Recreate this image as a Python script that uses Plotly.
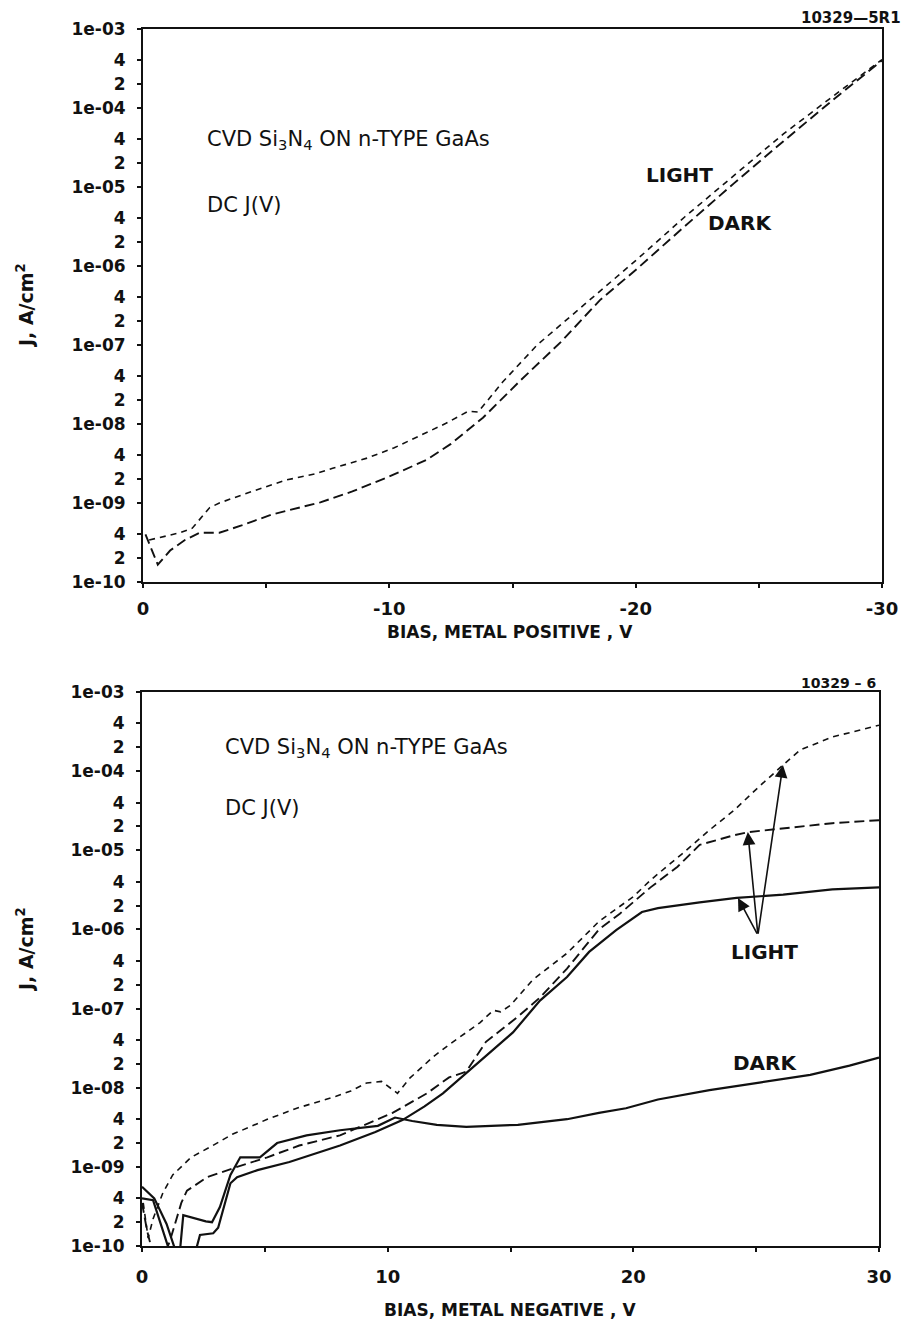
import numpy as np
import plotly.graph_objects as go

# ---------------- data ----------------
# Top panel: bias metal positive (V), J in A/cm^2
top_light_v = [-0.25, -0.8, -1.5, -2.0, -2.7, -3.1, -4.0, -5.8, -7.0, -7.7, -9.1, -10.2,
               -11.25, -12.3, -13.2, -13.6, -14.0, -14.6, -16.0, -18.15, -20.0, -22.0,
               -24.0, -26.0, -28.0, -30.0]
top_light_j = [3.4e-10, 3.7e-10, 4.2e-10, 4.8e-10, 8.7e-10, 1.0e-9, 1.26e-9, 1.95e-9,
               2.34e-9, 2.75e-9, 3.7e-9, 5.0e-9, 7.2e-9, 1.02e-8, 1.45e-8, 1.42e-8,
               2.0e-8, 3.4e-8, 1.0e-7, 3.7e-7, 1.17e-6, 4.2e-6, 1.4e-5, 4.7e-5,
               1.4e-4, 4.1e-4]

top_dark_v = [-0.1, -0.6, -1.1, -1.7, -2.3, -3.1, -4.0, -5.2, -7.2, -8.5, -9.9, -11.5,
              -12.5, -13.4, -13.8, -15.3, -17.0, -18.55, -20.0, -22.0, -24.0, -26.0,
              -28.0, -30.0]
top_dark_j = [4.0e-10, 1.66e-10, 2.5e-10, 3.4e-10, 4.2e-10, 4.2e-10, 5.2e-10, 7.1e-10,
              1.02e-9, 1.4e-9, 2.1e-9, 3.5e-9, 5.6e-9, 9.5e-9, 1.2e-8, 3.5e-8, 1.12e-7,
              3.7e-7, 8.9e-7, 3.2e-6, 1.12e-5, 3.8e-5, 1.26e-4, 4.0e-4]

# Bottom panel: bias metal negative (V)
bot_light_sd_v = [0.05, 0.25, 0.45, 0.85, 1.25, 2.0, 2.77, 3.7, 4.4, 5.1, 6.3, 7.9, 8.5,
                  9.15, 9.75, 10.4, 10.9, 11.85, 12.5, 13.75, 14.3, 14.6, 15.0, 15.9,
                  17.3, 18.6, 20.0, 20.7, 22.0, 23.1, 24.1, 25.1, 26.1, 26.8, 28.1,
                  29.6, 30.0]
bot_light_sd_j = [3.5e-10, 1.26e-10, 2.2e-10, 4.7e-10, 7.9e-10, 1.32e-9, 1.78e-9,
                  2.6e-9, 3.2e-9, 4.0e-9, 5.5e-9, 7.8e-9, 9.1e-9, 1.15e-8, 1.2e-8,
                  8.5e-9, 1.32e-8, 2.45e-8, 3.5e-8, 6.6e-8, 9.5e-8, 9.1e-8, 1.1e-7,
                  2.3e-7, 5.0e-7, 1.26e-6, 2.6e-6, 4.2e-6, 9.1e-6, 1.8e-5, 3.2e-5,
                  6.3e-5, 1.2e-4, 1.86e-4, 2.7e-4, 3.6e-4, 3.8e-4]

bot_light_ld_v = [0.0, 0.2, 0.4, 1.0, 1.14, 1.4, 1.6, 1.83, 2.65, 3.87, 5.1, 6.4, 8.06,
                  10.2, 11.6, 12.5, 13.2, 14.0, 15.3, 16.2, 17.3, 18.6, 19.45, 20.7,
                  21.8, 22.7, 24.1, 24.7, 26.1, 28.1, 30.0]
bot_light_ld_j = [3.5e-10, 1.6e-10, 0.9e-10, 0.9e-10, 1.17e-10, 2.1e-10, 3.5e-10,
                  5.0e-10, 7.4e-10, 1.0e-9, 1.32e-9, 1.86e-9, 2.5e-9, 4.8e-9, 8.5e-9,
                  1.35e-8, 1.6e-8, 3.8e-8, 7.9e-8, 1.38e-7, 3.2e-7, 1.0e-6, 1.58e-6,
                  3.4e-6, 6.2e-6, 1.17e-5, 1.55e-5, 1.7e-5, 1.9e-5, 2.2e-5, 2.4e-5]

bot_light_s_v = [0.0, 0.45, 0.9, 1.1, 2.2, 2.36, 2.9, 3.1, 3.6, 3.87, 4.7, 6.0, 8.06,
                 9.5, 10.6, 11.5, 12.25, 13.1, 14.0, 15.1, 16.2, 17.3, 18.2, 19.3,
                 20.35, 21.0, 22.7, 24.2, 26.1, 28.1, 30.0]
bot_light_s_j = [4.0e-10, 3.8e-10, 1.4e-10, 0.9e-10, 0.9e-10, 1.38e-10, 1.45e-10,
                 1.7e-10, 6.2e-10, 7.4e-10, 9.1e-10, 1.15e-9, 1.86e-9, 2.75e-9,
                 3.9e-9, 5.8e-9, 8.5e-9, 1.45e-8, 2.5e-8, 5.0e-8, 1.26e-7, 2.5e-7,
                 5.2e-7, 9.8e-7, 1.66e-6, 1.86e-6, 2.2e-6, 2.5e-6, 2.75e-6, 3.2e-6,
                 3.4e-6]

bot_dark_v = [0.0, 0.5, 1.0, 1.35, 1.55, 1.68, 2.6, 2.85, 3.17, 3.6, 4.0, 4.8, 5.5,
              6.7, 8.06, 9.6, 10.3, 11.0, 12.0, 13.2, 15.3, 17.3, 18.6, 19.7, 21.0,
              23.1, 25.2, 27.2, 28.8, 30.0]
bot_dark_j = [5.6e-10, 4.0e-10, 1.9e-10, 0.9e-10, 0.9e-10, 2.45e-10, 2.05e-10, 2.0e-10,
              3.1e-10, 7.9e-10, 1.32e-9, 1.32e-9, 2.0e-9, 2.5e-9, 2.9e-9, 3.3e-9,
              4.2e-9, 3.8e-9, 3.4e-9, 3.2e-9, 3.4e-9, 4.0e-9, 4.8e-9, 5.5e-9, 7.1e-9,
              9.3e-9, 1.17e-8, 1.45e-8, 1.9e-8, 2.4e-8]

# arrows in bottom panel: common tail and three heads (V, J)
arrow_tail = (25.07, 8.5e-7)
arrow_heads = [(24.66, 1.7e-5), (26.09, 1.2e-4), (24.26, 2.5e-6)]

# y tick labels
y_tick_vals = []
y_tick_text = []
for d in range(-10, -2):
    for m in (1, 2, 4):
        if d == -3 and m > 1:
            continue
        y_tick_vals.append(m * 10.0 ** d)
        y_tick_text.append(f"1e-{-d:02d}" if m == 1 else str(m))

top_x_vals = [0, -5, -10, -15, -20, -25, -30]
top_x_text = ["0", "", "-10", "", "-20", "", "-30"]
bot_x_vals = [0, 5, 10, 15, 20, 25, 30]
bot_x_text = ["0", "", "10", "", "20", "", "30"]

# ---------------- figure ----------------
W, H = 906, 1328
FONT = "DejaVu Sans"
INK = "#111111"


def px_x(p):
    return p / W


def px_y(p):
    return 1 - p / H


fig = go.Figure()

short_dash = "6px,5px"
long_dash = "10px,5px"

fig.add_trace(go.Scatter(x=top_light_v, y=top_light_j, mode="lines",
                         line=dict(color=INK, width=1.6, dash=short_dash),
                         xaxis="x", yaxis="y", name="LIGHT"))
fig.add_trace(go.Scatter(x=top_dark_v, y=top_dark_j, mode="lines",
                         line=dict(color=INK, width=1.9, dash=long_dash),
                         xaxis="x", yaxis="y", name="DARK"))

fig.add_trace(go.Scatter(x=bot_light_sd_v, y=bot_light_sd_j, mode="lines",
                         line=dict(color=INK, width=1.6, dash=short_dash),
                         xaxis="x2", yaxis="y2", name="LIGHT 1"))
fig.add_trace(go.Scatter(x=bot_light_ld_v, y=bot_light_ld_j, mode="lines",
                         line=dict(color=INK, width=1.9, dash=long_dash),
                         xaxis="x2", yaxis="y2", name="LIGHT 2"))
fig.add_trace(go.Scatter(x=bot_light_s_v, y=bot_light_s_j, mode="lines",
                         line=dict(color=INK, width=2.2),
                         xaxis="x2", yaxis="y2", name="LIGHT 3"))
fig.add_trace(go.Scatter(x=bot_dark_v, y=bot_dark_j, mode="lines",
                         line=dict(color=INK, width=2.2),
                         xaxis="x2", yaxis="y2", name="DARK"))

axis_common = dict(showline=True, linecolor=INK, linewidth=2, mirror=True,
                   showgrid=False, zeroline=False, ticks="outside", ticklen=4,
                   tickwidth=1.5, tickcolor=INK, automargin=False)
xfont = dict(family=FONT, size=18, color=INK, weight="bold")
yfont = dict(family=FONT, size=17, color=INK, weight="bold")

fig.update_layout(
    width=W, height=H, margin=dict(l=0, r=0, t=0, b=0, autoexpand=False),
    paper_bgcolor="white", plot_bgcolor="white", showlegend=False,
    xaxis=dict(axis_common, domain=[px_x(143), px_x(882)], anchor="y",
               range=[0, -30], tickmode="array", tickvals=top_x_vals,
               ticktext=top_x_text, tickfont=xfont, ticklabelstandoff=5),
    yaxis=dict(axis_common, domain=[px_y(582), px_y(29)], anchor="x",
               type="log", range=[-10, -3], tickmode="array",
               tickvals=y_tick_vals, ticktext=y_tick_text, tickfont=yfont,
               ticklabelstandoff=8),
    xaxis2=dict(axis_common, domain=[px_x(142), px_x(879)], anchor="y2",
                range=[0, 30], tickmode="array", tickvals=bot_x_vals,
                ticktext=bot_x_text, tickfont=xfont, ticklabelstandoff=9),
    yaxis2=dict(axis_common, domain=[px_y(1246), px_y(692)], anchor="x2",
                type="log", range=[-10, -3], tickmode="array",
                tickvals=y_tick_vals, ticktext=y_tick_text, tickfont=yfont,
                ticklabelstandoff=8),
)

ann = []
txt_font = dict(family=FONT, size=21, color=INK)
lab_font = dict(family=FONT, size=20, color=INK, weight="bold")
ytitle_font = dict(family=FONT, size=19, color=INK, weight="bold")
title_font = dict(family=FONT, size=17, color=INK, weight="bold")

# panel texts
for xr, yr, xv, yv in [("x", "y", -2.5, 10 ** -4.40),
                       ("x2", "y2", 3.3, 10 ** -3.71)]:
    ann.append(dict(xref=xr, yref=yr, x=xv, y=np.log10(yv), xanchor="left",
                    yanchor="middle", showarrow=False, font=txt_font,
                    text="CVD Si<sub>3</sub>N<sub>4</sub> ON n-TYPE GaAs"))
for xr, yr, xv, yv in [("x", "y", -2.5, 10 ** -5.23),
                       ("x2", "y2", 3.3, 10 ** -4.47)]:
    ann.append(dict(xref=xr, yref=yr, x=xv, y=np.log10(yv), xanchor="left",
                    yanchor="middle", showarrow=False, font=txt_font,
                    text="DC J(V)"))

# curve labels
for xr, yr, xv, yv, t in [("x", "y", -21.76, 10 ** -4.85, "LIGHT"),
                          ("x", "y", -24.24, 10 ** -5.46, "DARK"),
                          ("x2", "y2", 25.35, 10 ** -6.29, "LIGHT"),
                          ("x2", "y2", 25.35, 10 ** -7.69, "DARK")]:
    ann.append(dict(xref=xr, yref=yr, x=xv, y=np.log10(yv), xanchor="center",
                    yanchor="middle", showarrow=False, font=lab_font, text=t))

# arrows
for hx, hy in arrow_heads:
    ann.append(dict(xref="x2", yref="y2", x=hx, y=np.log10(hy),
                    axref="x2", ayref="y2", ax=arrow_tail[0],
                    ay=np.log10(arrow_tail[1]), showarrow=True, text="",
                    arrowhead=2, arrowsize=1.6, arrowwidth=1.6, arrowcolor=INK))

# figure ids
id_font = dict(family=FONT, size=15, color=INK, weight="bold")
ann.append(dict(xref="paper", yref="paper", x=px_x(903), y=px_y(18),
                xanchor="right", yanchor="middle", showarrow=False,
                font=id_font, text="10329—5R1"))
ann.append(dict(xref="paper", yref="paper", x=px_x(878), y=px_y(683),
                xanchor="right", yanchor="middle", showarrow=False,
                font=dict(id_font, size=14), text="10329 – 6"))

# axis titles
ann.append(dict(xref="paper", yref="paper", x=px_x(510), y=px_y(632),
                xanchor="center", yanchor="middle", showarrow=False,
                font=title_font, text="BIAS, METAL POSITIVE , V"))
ann.append(dict(xref="paper", yref="paper", x=px_x(510), y=px_y(1310),
                xanchor="center", yanchor="middle", showarrow=False,
                font=title_font, text="BIAS, METAL NEGATIVE , V"))
ann.append(dict(xref="paper", yref="paper", x=px_x(25), y=px_y(306),
                xanchor="center", yanchor="middle", showarrow=False,
                textangle=-90, font=ytitle_font, text="J, A/cm<sup>2</sup>"))
ann.append(dict(xref="paper", yref="paper", x=px_x(25), y=px_y(950),
                xanchor="center", yanchor="middle", showarrow=False,
                textangle=-90, font=ytitle_font, text="J, A/cm<sup>2</sup>"))

fig.update_layout(annotations=ann)
fig.write_html("out.html")
